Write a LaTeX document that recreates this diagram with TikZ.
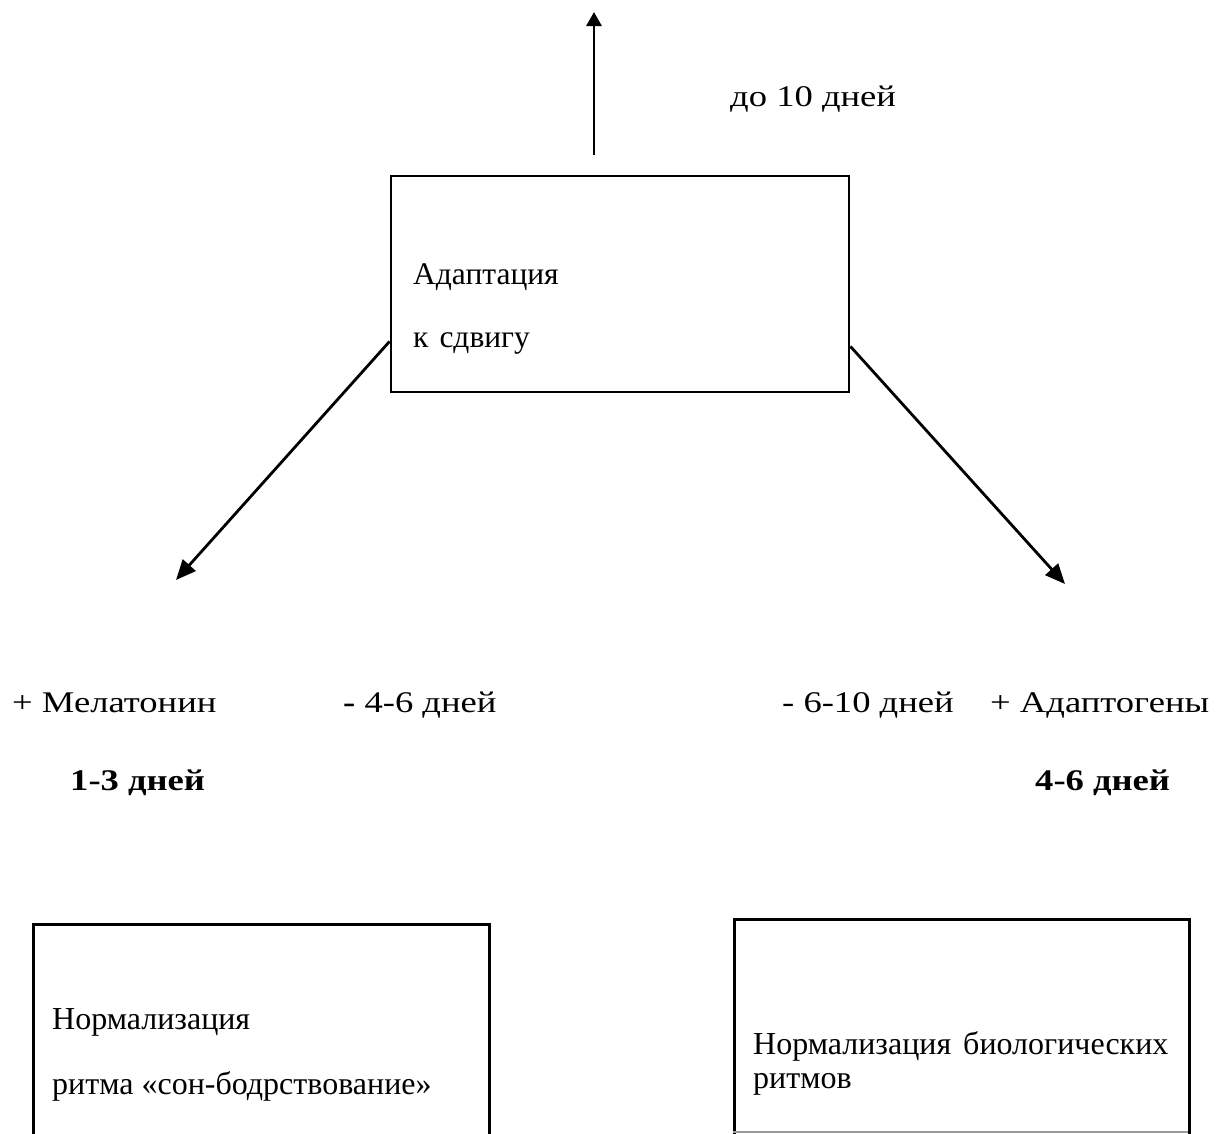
\documentclass[tikz,border=0pt]{standalone}
\usepackage{fontspec}
\setmainfont{Liberation Serif}
\newfontfamily\wideserif{Liberation Serif}[FakeStretch=1.22]
\usetikzlibrary{arrows.meta,calc}
\tikzset{
  box/.style={draw=black, line width=2.8pt, fill=none, inner sep=0pt},
  lbl/.style={anchor=base west, inner sep=0pt, font=\fontsize{32}{38}\selectfont},
  wlbl/.style={anchor=base west, inner sep=0pt, font=\wideserif\fontsize{30}{36}\selectfont},
  arr/.style={line width=2.8pt, -{Triangle[length=20pt,width=17pt]}},
  uparr/.style={line width=2.8pt, -{Triangle[length=14pt,width=15pt]}}
}
\begin{document}
\begin{tikzpicture}[x=1pt,y=-1pt]
\useasboundingbox (0,0) rectangle (1226,1133);
\clip (0,0) rectangle (1226,1133);
% top box
\node[box, minimum width=458pt, minimum height=216pt] (adapt) at (620,284) {};
\node[lbl, font=\fontsize{31.5}{38}\selectfont] (t1) at (413,284) {Адаптация};
\node[lbl, font=\fontsize{31.5}{38}\selectfont] (t2) at (413,347) {к\hspace{11pt}сдвигу};
% top arrow
\coordinate (upstart) at (594,155);
\coordinate (upend) at (594,12);
\draw[uparr] (upstart) -- (upend);
\node[wlbl] (days10) at (730,106) {до 10 дней};
% diagonal arrows
\coordinate (lend) at (176,580);
\coordinate (rend) at (1065,584);
\draw[arr] ($(adapt.south west)+(0,-52)$) -- (lend);
\draw[arr] ($(adapt.south east)+(0,-47)$) -- (rend);
% labels
\node[wlbl] (mel) at (12,712) {+ Мелатонин};
\node[wlbl] (m46) at (343,712) {\textbf{-} 4-6 дней};
\node[wlbl] (m13) at (70,790) {\textbf{1-3 дней}};
\node[wlbl] (m610) at (782,712) {- 6-10 дней};
\node[wlbl] (adg) at (990,712) {+ Адаптогены};
\node[wlbl] (a46) at (1035,790) {\textbf{4-6 дней}};
% bottom boxes
\node[box, anchor=north west, minimum width=456pt, minimum height=260pt] (nl) at (32,923) {};
\node[lbl] (n1) at (52,1029) {Нормализация};
\node[lbl] (n2) at (52,1094) {ритма «сон-бодрствование»};
\node[box, anchor=north west, minimum width=455pt, minimum height=260pt] (nr) at (733,918) {};
\draw[black!40, line width=1.5pt] (733,1132) -- (1188,1132);
\node[lbl] (r1) at (753,1054) {Нормализация\hspace{12pt}биологических};
\node[lbl] (r2) at (753,1088) {ритмов};
\end{tikzpicture}
\end{document}
